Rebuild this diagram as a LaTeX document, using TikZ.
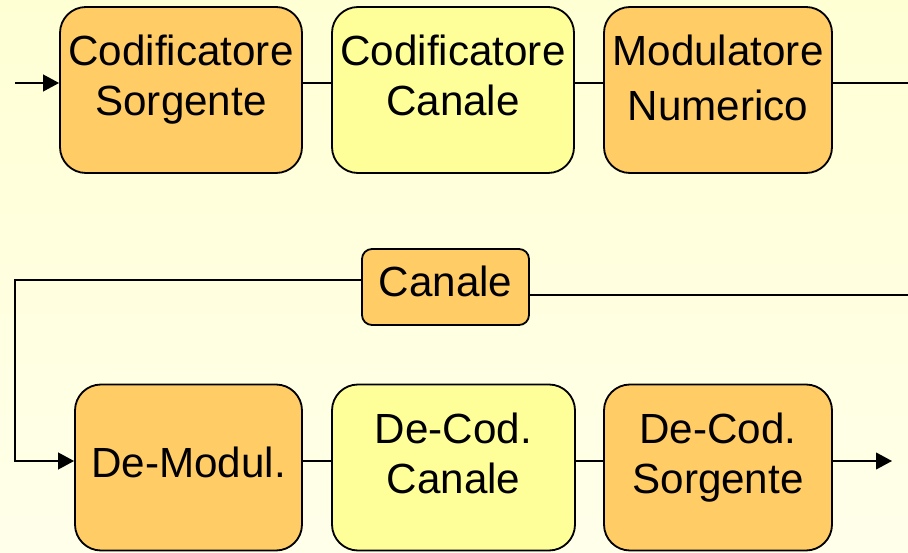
\documentclass[tikz,border=0pt]{standalone}
\usepackage{fontspec}
\setmainfont{Liberation Sans}
\usepackage{xcolor}
\usepackage{tikz}
\usetikzlibrary{shapes,arrows.meta,positioning}

\definecolor{sfondo}{HTML}{FFFFD4}
\definecolor{sfondobasso}{HTML}{FFFFEA}
\definecolor{arancio}{HTML}{FFCC66}
\definecolor{giallo}{HTML}{FFFF99}

\begin{document}
\begin{tikzpicture}[
        blocco/.style={
            draw=black,
            line width=1.3pt,
            rounded corners=0.65cm,
            minimum height=4.15cm,
            inner sep=0pt
        },
        scritta/.style={
            inner sep=0pt,
            align=center,
            font=\fontsize{30}{35.5}\selectfont,
            execute at begin node=\strut,
            execute at end node=\strut
        },
        filo/.style={line width=1.2pt},
        freccia/.style={line width=1.2pt, -{Triangle[length=0.4cm,width=0.42cm]}}
    ]

    % sfondo
    \shade[top color=sfondo, bottom color=sfondobasso] (0,0) rectangle (22.7,13.8);
    \useasboundingbox (0,0) rectangle (22.7,13.8);

    % trasmettitore
    \node[blocco, fill=arancio, minimum width=6.05cm] (cs) at (4.525,11.55) {};
    \node[blocco, fill=giallo, minimum width=6.05cm] (cc) at (11.325,11.55) {};
    \node[blocco, fill=arancio, minimum width=5.7cm] (mn) at (17.95,11.55) {};

    \node[scritta] (cs-t) at ([yshift=0.18cm]cs.center) {Codificatore\\Sorgente};
    \node[scritta] (cc-t) at ([yshift=0.18cm]cc.center) {Codificatore\\Canale};
    \node[scritta] (mn-t) at ([yshift=0.12cm]mn.center) {Modulatore\\[0.12cm]Numerico};

    % canale
    \node[
        blocco,
        fill=arancio,
        rounded corners=0.25cm,
        minimum width=4.175cm,
        minimum height=1.9cm
    ] (ch) at (11.1375,6.625) {};
    \node[scritta] (ch-t) at (ch.center) {Canale};

    % ricevitore
    \node[blocco, fill=arancio, minimum width=5.675cm] (dm) at (4.7125,2.1125) {};
    \node[blocco, fill=giallo, minimum width=6.075cm] (dcc) at (11.3375,2.1125) {};
    \node[blocco, fill=arancio, minimum width=5.7cm] (dcs) at (17.95,2.1125) {};

    \node[scritta] (dm-t) at (dm.center) {De-Modul.};
    \node[scritta] (dcc-t) at ([yshift=0.18cm]dcc.center) {De-Cod.\\Canale};
    \node[scritta] (dcs-t) at ([yshift=0.18cm]dcs.center) {De-Cod.\\Sorgente};

    % punti liberi dei collegamenti
    \coordinate (ingresso) at (0.375,11.725);
    \coordinate (versoch) at (22.7,11.725);
    \coordinate (dach) at (22.7,6.425);
    \coordinate (angolo) at (0.375,6.8);
    \coordinate (ritorno) at (0.375,2.275);
    \coordinate (uscita) at (22.3,2.275);

    % collegamenti in alto
    \draw[freccia] (ingresso) -- (ingresso -| cs.west);
    \draw[filo] (ingresso -| cs.east) -- (ingresso -| cc.west);
    \draw[filo] (ingresso -| cc.east) -- (ingresso -| mn.west);
    \draw[filo] (ingresso -| mn.east) -- (versoch);

    % collegamenti del canale
    \draw[filo] (dach -| ch.east) -- (dach);
    \draw[freccia] (angolo -| ch.west) -- (angolo) -- (ritorno) -- (ritorno -| dm.west);

    % collegamenti in basso
    \draw[filo] (ritorno -| dm.east) -- (ritorno -| dcc.west);
    \draw[filo] (ritorno -| dcc.east) -- (ritorno -| dcs.west);
    \draw[freccia] (ritorno -| dcs.east) -- (uscita);

\end{tikzpicture}
\end{document}
